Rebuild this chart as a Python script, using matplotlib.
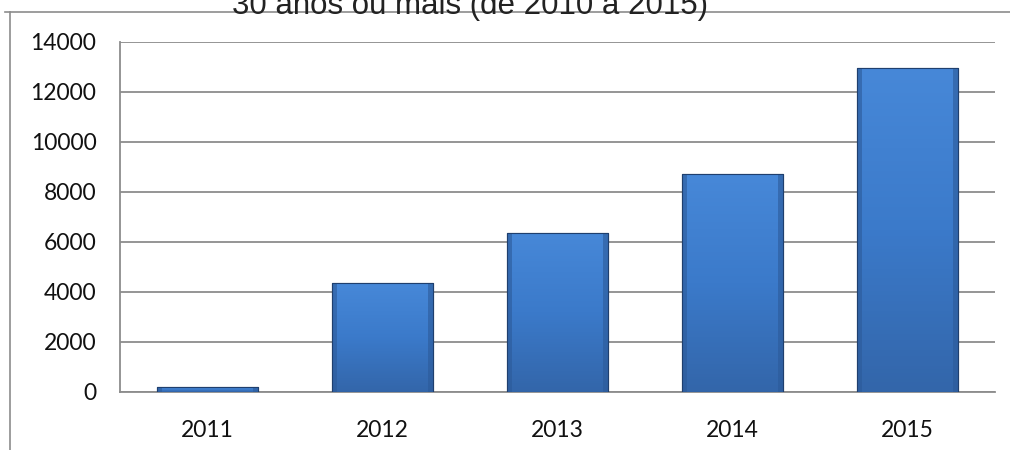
import numpy as np
import matplotlib
matplotlib.use("Agg")
import matplotlib.pyplot as plt
from matplotlib.colors import LinearSegmentedColormap
from matplotlib.patches import Rectangle

# data
years = ["2011", "2012", "2013", "2014", "2015"]
values = [200, 4360, 6360, 8720, 12960]
yticks = [0, 2000, 4000, 6000, 8000, 10000, 12000, 14000]
title = "30 anos ou mais (de 2010 a 2015)"

fig = plt.figure(figsize=(10.1, 4.5), dpi=100)
ax = fig.add_axes([120/1010, 58/450, 875/1010, 350/450])

# outer chart frame (cut by the image edges)
fig.add_artist(plt.Line2D([5/1010, 1.0], [1 - 12/450, 1 - 12/450], color="#8c8c8c", lw=1.2))
fig.add_artist(plt.Line2D([10/1010, 10/1010], [0, 1 - 12/450], color="#8c8c8c", lw=1.2))

# title, mostly cut off at the top like in the source
fig.text(470/1010, 1 - 14/450, title, ha="center", va="baseline",
         fontsize=22.5, family="Liberation Sans", color="#222222")

x = np.arange(len(years))
bars = ax.bar(x, values, width=0.575, color="#3b78c6", edgecolor="#1f3f6e",
              linewidth=0.8, zorder=3)

grad = LinearSegmentedColormap.from_list("g", ["#3366aa", "#3b7aca", "#4788d8"])
for b in bars:
    x0, w, h = b.get_x(), b.get_width(), b.get_height()
    img = ax.imshow(np.linspace(0, 1, 100).reshape(-1, 1), cmap=grad, aspect="auto",
                    extent=[x0, x0 + w, 0, h], origin="lower", zorder=3.5)
    img.set_clip_path(b)
    # darker side bevels
    sw = w * 0.05
    ax.add_patch(Rectangle((x0, 0), sw, h, color="#2c5a99", alpha=0.6, zorder=3.6, lw=0))
    ax.add_patch(Rectangle((x0 + w - sw, 0), sw, h, color="#2c5a99", alpha=0.6, zorder=3.6, lw=0))
    ax.add_patch(Rectangle((x0, 0), w, h, fill=False, edgecolor="#1f3f6e", lw=0.8, zorder=3.7))

ax.set_xlim(-0.5, len(years) - 0.5)
ax.set_ylim(0, 14000)
ax.set_yticks(yticks)
ax.set_yticklabels([str(v) for v in yticks])
ax.set_xticks(x)
ax.set_xticklabels(years)
ax.yaxis.grid(True, color="#8c8c8c", lw=1.3, zorder=0)
ax.set_axisbelow(True)

for s in ["top", "right"]:
    ax.spines[s].set_visible(False)
ax.spines["left"].set_color("#8c8c8c")
ax.spines["bottom"].set_color("#8c8c8c")
ax.spines["left"].set_linewidth(1.3)
ax.spines["bottom"].set_linewidth(1.3)
ax.tick_params(axis="both", length=0, labelsize=16.5, labelcolor="#111111")
ax.tick_params(axis="x", pad=20)
ax.tick_params(axis="y", pad=17)
for lab in ax.get_xticklabels() + ax.get_yticklabels():
    lab.set_family("Lato")

fig.savefig("out.png", dpi=100)
